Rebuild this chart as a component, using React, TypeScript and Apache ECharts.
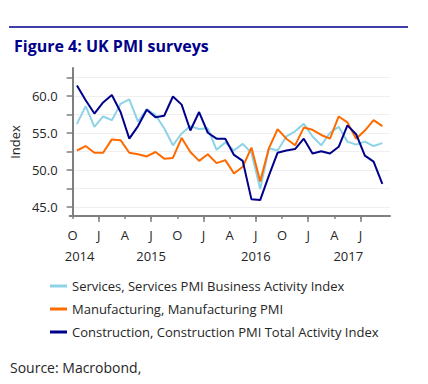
import React, { useEffect, useRef } from 'react';
import * as echarts from 'echarts';

// Month index 0 = October 2014; data points plotted at mid-month
const monthLabels = ['O', 'J', 'A', 'J', 'O', 'J', 'A', 'J', 'O', 'J', 'A', 'J'];
const monthTickValues = [0, 3, 6, 9, 12, 15, 18, 21, 24, 27, 30, 33];
const janJulTickValues = [3, 9, 15, 21, 27, 33];
const yearLabels = ['2014', '2015', '2016', '2017'];
const yearLabelValues = [0.8, 9, 21, 31.6];
const yTickValues = [45, 47.5, 50, 52.5, 55, 57.5, 60, 62.5];
const yLabelValues = [45, 50, 55, 60];

const seriesNames = [
  'Services, Services PMI Business Activity Index',
  'Manufacturing, Manufacturing PMI',
  'Construction, Construction PMI Total Activity Index',
];

const services = [
  56.2, 58.6, 55.8,
  57.2, 56.7, 58.9, 59.5, 56.5, 58.2, 57.4, 55.6, 53.3, 54.9, 55.9, 55.5,
  55.6, 52.7, 53.7, 52.6, 53.5, 52.3, 47.4, 52.9, 52.6, 54.5, 55.2, 56.2,
  54.5, 53.3, 55.0, 55.8, 53.8, 53.4, 53.8, 53.2, 53.6,
];
const manufacturing = [
  52.6, 53.2, 52.3,
  52.3, 54.1, 54.0, 52.3, 52.1, 51.8, 52.4, 51.5, 51.6, 54.3, 52.4, 51.2,
  52.1, 50.9, 51.3, 49.5, 50.4, 53.0, 48.4, 52.9, 55.5, 54.2, 53.3, 55.7,
  55.4, 54.7, 54.2, 57.2, 56.4, 54.2, 55.3, 56.7, 55.9,
];
const construction = [
  61.4, 59.4, 57.6,
  59.1, 60.1, 57.8, 54.2, 55.9, 58.1, 57.1, 57.3, 59.9, 58.8, 55.3, 57.8,
  55.0, 54.2, 54.2, 52.0, 51.2, 46.0, 45.9, 49.2, 52.3, 52.6, 52.8, 54.2,
  52.2, 52.5, 52.2, 53.1, 56.0, 54.8, 51.9, 51.1, 48.1,
];

const colors = ['#8DD3E7', '#FF6A00', '#00008C'];
const FONT = '"Open Sans", "Noto Sans", sans-serif';
const AXIS_GRAY = '#7F7F7F';
const TEXT = '#262626';

const X_MIN = -0.34;
const X_MAX = 36.38;

export default function App() {
  const ref = useRef<HTMLDivElement>(null);

  useEffect(() => {
    document.body.style.margin = '0';
    if (!ref.current) return;
    const chart = echarts.init(ref.current, undefined, { renderer: 'svg' });

    const toPoints = (arr: number[]) => arr.map((v, i) => [i + 0.5, v]);
    const allSeries = [services, manufacturing, construction];

    const baseX = {
      type: 'value' as const,
      min: X_MIN,
      max: X_MAX,
      position: 'bottom' as const,
      splitLine: { show: false },
    };

    chart.setOption({
      animation: false,
      textStyle: { fontFamily: FONT },
      title: {
        text: 'Figure 4: UK PMI surveys',
        left: 9,
        top: 33,
        textStyle: { fontFamily: FONT, fontSize: 16, fontWeight: 'bold', color: '#00008B' },
      },
      graphic: [
        {
          type: 'line',
          shape: { x1: 9, y1: 27, x2: 408, y2: 27 },
          style: { stroke: '#00008B', lineWidth: 1.5 },
        },
        {
          type: 'text',
          left: 10,
          top: 360,
          style: { text: 'Source: Macrobond,', font: `14px ${FONT}`, fill: TEXT },
        },
      ],
      legend: {
        orient: 'vertical',
        left: 45,
        top: 273,
        icon: 'rect',
        itemWidth: 17,
        itemHeight: 3,
        itemGap: 7,
        textStyle: { fontFamily: FONT, fontSize: 13, color: TEXT, lineHeight: 16 },
        data: seriesNames,
      },
      grid: { left: 65, top: 68, width: 325, height: 148 },
      xAxis: [
        {
          ...baseX,
          axisLine: { show: true, lineStyle: { color: AXIS_GRAY, width: 2 } },
          axisTick: { show: true, customValues: monthTickValues, length: 3, lineStyle: { color: AXIS_GRAY, width: 1.5 } },
          axisLabel: {
            customValues: monthTickValues,
            formatter: (v: number) => monthLabels[monthTickValues.indexOf(Math.round(v))] ?? '',
            margin: 12,
            fontSize: 13,
            color: TEXT,
            fontFamily: FONT,
          },
        },
        {
          ...baseX,
          axisLine: { show: false },
          axisTick: { show: true, customValues: janJulTickValues, length: 6, lineStyle: { color: AXIS_GRAY, width: 1.5 } },
          axisLabel: { show: false },
        },
        {
          ...baseX,
          axisLine: { show: false },
          axisTick: { show: false },
          axisLabel: {
            customValues: yearLabelValues,
            formatter: (v: number) => {
              const idx = yearLabelValues.findIndex((y) => Math.abs(y - v) < 1e-6);
              return idx >= 0 ? yearLabels[idx] : '';
            },
            margin: 33,
            fontSize: 13,
            color: TEXT,
            fontFamily: FONT,
          },
        },
      ],
      yAxis: {
        type: 'value',
        min: 43.75,
        max: 63.75,
        name: 'Index',
        nameLocation: 'middle',
        nameGap: 33,
        nameTextStyle: { fontSize: 13, color: TEXT, fontFamily: FONT },
        axisLine: { show: true, lineStyle: { color: AXIS_GRAY, width: 2 } },
        axisTick: { show: true, customValues: yTickValues, length: 6, lineStyle: { color: AXIS_GRAY, width: 1.5 } },
        axisLabel: {
          customValues: yLabelValues,
          formatter: (v: number) => v.toFixed(1),
          margin: 12,
          fontSize: 13,
          color: TEXT,
          fontFamily: FONT,
        },
        splitLine: { show: true, lineStyle: { color: '#EFEFEF', width: 1 } },
      },
      series: allSeries.map((arr, k) => ({
        name: seriesNames[k],
        type: 'line',
        xAxisIndex: 0,
        data: toPoints(arr),
        symbol: 'none',
        color: colors[k],
        lineStyle: { width: 2, color: colors[k] },
      })),
    });

    return () => chart.dispose();
  }, []);

  return <div ref={ref} style={{ width: 428, height: 384 }} />;
}
